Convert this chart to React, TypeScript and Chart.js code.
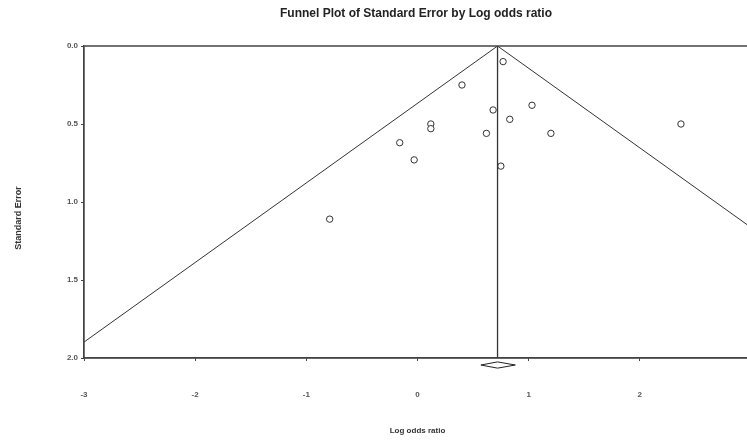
import React, { useEffect, useRef } from "react";
import { Chart, registerables } from "chart.js";

Chart.register(...registerables);

// Study estimates: log odds ratio and standard error
const studyLogOdds = [0.77, 0.40, 0.68, 1.03, 0.83, 0.12, 0.12, 0.62, 1.20, -0.16, -0.03, 0.75, -0.79, 2.37];
const studyStdErr = [0.10, 0.25, 0.41, 0.38, 0.47, 0.50, 0.53, 0.56, 0.56, 0.62, 0.73, 0.77, 1.11, 0.50];

// Summary estimate and its confidence interval (diamond)
const summaryEstimate = 0.72;
const summaryLower = 0.57;
const summaryUpper = 0.88;
const diamondCenterSE = 2.045;
const diamondHalfHeight = 0.02;

const xTicks = [-3, -2, -1, 0, 1, 2, 3];
const yTicks = [0, 0.5, 1.0, 1.5, 2.0];
const seMax = 2.0;
const zCrit = 1.96;

const chartTitle = "Funnel Plot of Standard Error by Log odds ratio";
const xTitle = "Log odds ratio";
const yTitle = "Standard Error";

const FONT = "'Liberation Sans', Arial, sans-serif";

export default function App() {
  const ref = useRef<HTMLCanvasElement | null>(null);

  useEffect(() => {
    if (!ref.current) return;
    const points = studyLogOdds.map((x, i) => ({ x, y: studyStdErr[i] }));
    const funnel = [
      { x: summaryEstimate - zCrit * seMax, y: seMax },
      { x: summaryEstimate, y: 0 },
      { x: summaryEstimate + zCrit * seMax, y: seMax },
    ];
    const vline = [
      { x: summaryEstimate, y: 0 },
      { x: summaryEstimate, y: seMax },
    ];
    const diamond = [
      { x: summaryLower, y: diamondCenterSE },
      { x: summaryEstimate, y: diamondCenterSE - diamondHalfHeight },
      { x: summaryUpper, y: diamondCenterSE },
      { x: summaryEstimate, y: diamondCenterSE + diamondHalfHeight },
      { x: summaryLower, y: diamondCenterSE },
    ];

    const decor = {
      id: "decor",
      afterDraw(chart: any) {
        const { ctx, chartArea } = chart;
        ctx.save();
        ctx.strokeStyle = "#444";
        ctx.lineWidth = 1.3;
        ctx.beginPath();
        ctx.moveTo(chartArea.left, chartArea.bottom);
        ctx.lineTo(chartArea.left, chartArea.top);
        ctx.lineTo(chartArea.right, chartArea.top);
        ctx.lineTo(chartArea.right, chartArea.bottom);
        ctx.lineTo(chartArea.left, chartArea.bottom);
        ctx.stroke();
        ctx.fillStyle = "#222";
        ctx.textAlign = "center";
        ctx.textBaseline = "middle";
        ctx.font = `bold 12px ${FONT}`;
        ctx.fillText(chartTitle, 416, 14);
        ctx.fillStyle = "#333";
        ctx.font = `bold 8px ${FONT}`;
        ctx.fillText(xTitle, (chartArea.left + 751) / 2, 431);
        ctx.font = `bold 9px ${FONT}`;
        ctx.translate(19, 218);
        ctx.rotate(-Math.PI / 2);
        ctx.fillText(yTitle, 0, 0);
        ctx.restore();
      },
    };

    const chart = new Chart(ref.current, {
      type: "scatter",
      data: {
        datasets: [
          {
            data: funnel,
            showLine: true,
            borderColor: "#333",
            borderWidth: 1,
            pointRadius: 0,
            fill: false,
          },
          {
            data: vline,
            showLine: true,
            borderColor: "#333",
            borderWidth: 1.3,
            pointRadius: 0,
          },
          {
            data: diamond,
            showLine: true,
            borderColor: "#222",
            borderWidth: 1,
            pointRadius: 0,
            clip: false as any,
            tension: 0,
          },
          {
            data: points,
            pointRadius: 3.2,
            pointBorderWidth: 1,
            pointBorderColor: "#333",
            pointBackgroundColor: "#fff",
            borderColor: "#333",
            backgroundColor: "#fff",
          },
        ],
      },
      options: {
        responsive: false,
        animation: false,
        devicePixelRatio: 1,
        layout: { padding: { top: 46, right: 49, left: 0, bottom: 0 } },
        plugins: {
          legend: { display: false },
          title: { display: false },
          tooltip: { enabled: false },
        },
        scales: {
          x: {
            type: "linear",
            min: -3,
            max: 3,
            afterFit: (s: any) => {
              s.height = 83;
            },
            afterBuildTicks: (s: any) => {
              s.ticks = xTicks.map((v) => ({ value: v }));
            },
            border: { display: true, color: "#444", width: 1.3 },
            grid: {
              drawOnChartArea: false,
              drawTicks: true,
              tickLength: 3,
              color: "#444",
            },
            ticks: {
              padding: 29,
              color: "#555",
              font: { family: FONT, size: 8, weight: "bold" },
              callback: (v: any) => String(v),
            },
          },
          y: {
            type: "linear",
            reverse: true,
            min: 0,
            max: 2,
            afterFit: (s: any) => {
              s.width = 84;
            },
            afterBuildTicks: (s: any) => {
              s.ticks = yTicks.map((v) => ({ value: v }));
            },
            border: { display: true, color: "#444", width: 1.3 },
            grid: {
              drawOnChartArea: false,
              drawTicks: true,
              tickLength: 3,
              color: "#444",
            },
            ticks: {
              padding: 3,
              color: "#555",
              font: { family: FONT, size: 8, weight: "bold" },
              callback: (v: any) => Number(v).toFixed(1),
            },
          },
        },
      },
      plugins: [decor],
    });
    return () => chart.destroy();
  }, []);

  return (
    <div
      style={{
        position: "fixed",
        left: 0,
        top: 0,
        width: 747,
        height: 441,
        overflow: "hidden",
        background: "#fff",
      }}
    >
      <canvas ref={ref} width={800} height={441} style={{ display: "block" }} />
    </div>
  );
}
